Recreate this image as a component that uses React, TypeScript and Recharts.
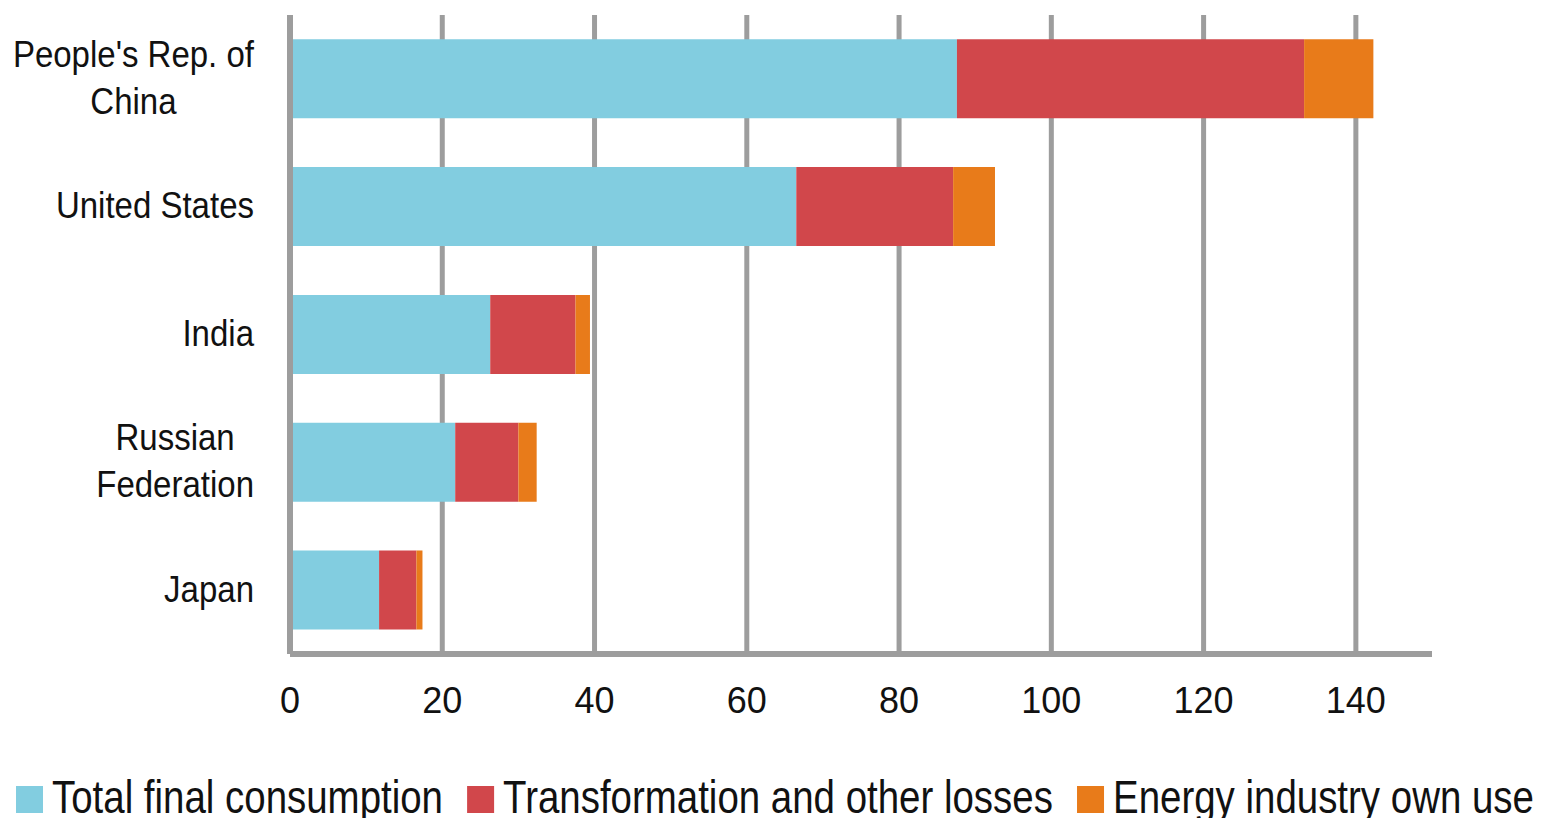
import React from 'react';
import { BarChart, Bar, XAxis, YAxis, CartesianGrid, Legend } from 'recharts';

const countries = ['People\'s Rep. of China', 'United States', 'India', 'Russian Federation', 'Japan'];
const countryLines: string[][] = [
  ['People\'s Rep. of', 'China'],
  ['United States'],
  ['India'],
  ['Russian', 'Federation'],
  ['Japan'],
];
const totalFinalConsumption = [87.6, 66.5, 26.3, 21.7, 11.7];
const transformationLosses = [45.6, 20.6, 11.2, 8.3, 4.9];
const energyOwnUse = [9.1, 5.5, 1.9, 2.4, 0.8];
const xTicks = [0, 20, 40, 60, 80, 100, 120, 140];
const xMax = 150;

const seriesNames = ['Total final consumption', 'Transformation and other losses', 'Energy industry own use'];
const seriesColors = ['#82cde0', '#d1474b', '#e87b1a'];

const data = countries.map((country, i) => ({
  country,
  tfc: totalFinalConsumption[i],
  losses: transformationLosses[i],
  ownUse: energyOwnUse[i],
}));

const FONT = "'Liberation Sans', Arial, sans-serif";
const GRID = '#9d9d9d';

const canvas = typeof document !== 'undefined' ? document.createElement('canvas') : null;
const ctx = canvas ? canvas.getContext('2d') : null;
function textWidth(text: string, size: number) {
  if (!ctx) return text.length * size * 0.5;
  ctx.font = `${size}px ${FONT}`;
  return ctx.measureText(text).width;
}

const LABEL_SIZE = 37.5;
const LABEL_SX = 0.88;

const CountryTick = (props: any) => {
  const { x, y, payload } = props;
  const idx = countries.indexOf(payload.value);
  const lines = idx >= 0 ? countryLines[idx] : [payload.value];
  const blockW = Math.max(...lines.map((l) => textWidth(l, LABEL_SIZE))) * LABEL_SX;
  const cx = x - blockW / 2;
  const lineH = 47;
  const base = y + 11.5 - ((lines.length - 1) * lineH) / 2;
  return (
    <g transform={`translate(${cx},0)`}>
      {lines.map((l, i) => (
        <text
          key={i}
          x={0}
          y={0}
          transform={`translate(0,${base + i * lineH}) scale(${LABEL_SX},1)`}
          textAnchor="middle"
          fontSize={LABEL_SIZE}
          fontFamily={FONT}
          fill="#111"
        >
          {l}
        </text>
      ))}
    </g>
  );
};

const LEG_SIZE = 45.5;
const LEG_SX = 0.845;

const LegendContent = (props: any) => {
  // keep the series order, not the alphabetical one
  const payload = [...(props.payload || [])].sort(
    (a: any, b: any) => seriesNames.indexOf(a.value) - seriesNames.indexOf(b.value)
  );
  let cursor = 16;
  const items = payload.map((entry: any, i: number) => {
    const w = textWidth(entry.value, LEG_SIZE) * LEG_SX;
    const x0 = cursor;
    cursor += 27 + 9 + w + 24;
    return (
      <g key={i}>
        <rect x={x0} y={26} width={27} height={27} fill={entry.color} />
        <text
          transform={`translate(${x0 + 36},53) scale(${LEG_SX},1)`}
          fontSize={LEG_SIZE}
          fontFamily={FONT}
          fill="#111"
        >
          {entry.value}
        </text>
      </g>
    );
  });
  return (
    <svg width={1542} height={70} style={{ display: 'block', overflow: 'visible' }}>
      {items}
    </svg>
  );
};

const gridX = ({ xAxis, offset }: any) => {
  const s = xAxis && xAxis.scale;
  return xTicks.map((t) =>
    typeof s === 'function' ? s(t) : offset.left + (t / xMax) * offset.width
  );
};

export default function App() {
  return (
    <div style={{ position: 'absolute', left: 0, top: 0, background: '#fff' }}>
      <BarChart
        width={1542}
        height={818}
        data={data}
        layout="vertical"
        margin={{ top: 15, right: 110, left: 0, bottom: 0 }}
        barCategoryGap="19%"
      >
        <CartesianGrid
          horizontal={false}
          stroke={GRID}
          strokeWidth={5}
          verticalCoordinatesGenerator={gridX}
        />
        <XAxis
          type="number"
          domain={[0, xMax]}
          ticks={xTicks}
          height={94}
          tickLine={false}
          axisLine={{ stroke: GRID, strokeWidth: 6 }}
          tickMargin={27}
          tick={{ fill: '#111', fontSize: 36, fontFamily: FONT }}
        />
        <YAxis
          type="category"
          dataKey="country"
          width={290}
          tickLine={false}
          axisLine={{ stroke: GRID, strokeWidth: 6 }}
          tickMargin={30}
          tick={<CountryTick />}
          interval={0}
        />
        <Legend
          verticalAlign="bottom"
          content={<LegendContent />}
          wrapperStyle={{ left: 0, top: 760, bottom: 'auto', width: 1542 }}
        />
        <Bar dataKey="tfc" name={seriesNames[0]} stackId="a" fill={seriesColors[0]} isAnimationActive={false} />
        <Bar dataKey="losses" name={seriesNames[1]} stackId="a" fill={seriesColors[1]} isAnimationActive={false} />
        <Bar dataKey="ownUse" name={seriesNames[2]} stackId="a" fill={seriesColors[2]} isAnimationActive={false} />
      </BarChart>
    </div>
  );
}
